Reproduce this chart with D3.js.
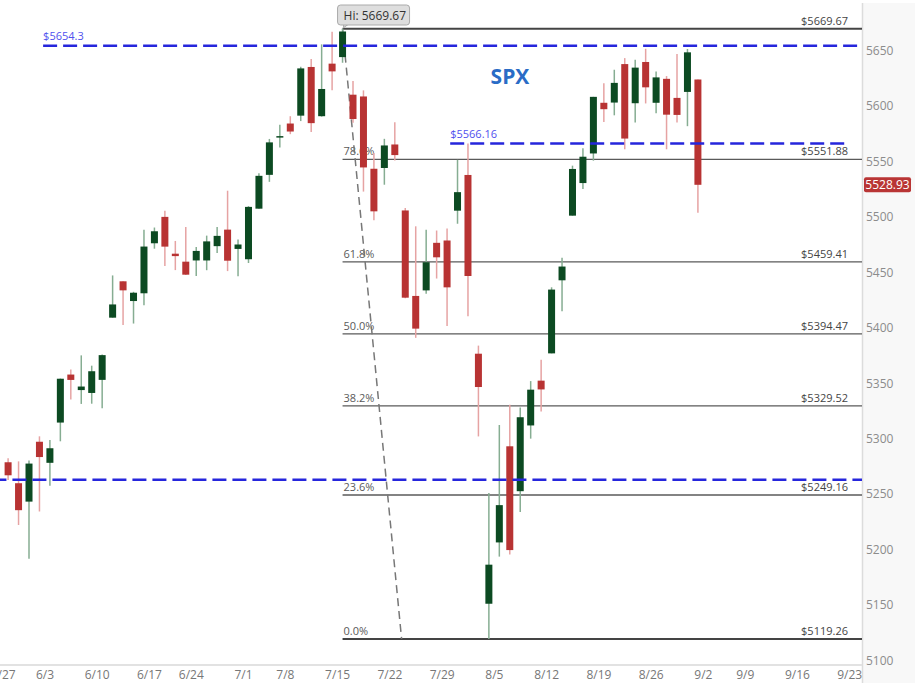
<!DOCTYPE html>
<html>
<head>
<meta charset="utf-8">
<script src="https://cdn.jsdelivr.net/npm/d3@7"></script>
<style>
  html, body { margin: 0; padding: 0; background: #fff; }
  svg { display: block; font-family: "Open Sans", "Noto Sans", sans-serif; }
</style>
</head>
<body>
<svg id="chart" width="915" height="683"></svg>
<script>
// ---- Data (SPX daily, 5/29 – 9/3) ----
const dates = ["5/29","5/30","5/31","6/3","6/4","6/5","6/6","6/7","6/10","6/11","6/12","6/13","6/14","6/17","6/18","6/20","6/21","6/24","6/25","6/26","6/27","6/28","7/1","7/2","7/3","7/5","7/8","7/9","7/10","7/11","7/12","7/15","7/16","7/17","7/18","7/19","7/22","7/23","7/24","7/25","7/26","7/29","7/30","7/31","8/1","8/2","8/5","8/6","8/7","8/8","8/9","8/12","8/13","8/14","8/15","8/16","8/19","8/20","8/21","8/22","8/23","8/26","8/27","8/28","8/29","8/30","9/3"];
const opens = [5278.7,5259.8,5243.2,5297.2,5278.2,5314.5,5357.8,5343.8,5341.2,5353.0,5409.1,5441.9,5424.1,5431.1,5476.2,5500.0,5466.8,5459.6,5460.7,5460.7,5473.6,5488.5,5471.1,5461.8,5507.4,5537.9,5572.5,5584.2,5591.3,5635.2,5590.8,5638.2,5644.1,5610.2,5608.6,5543.4,5544.1,5565.3,5505.8,5428.7,5433.7,5476.6,5478.7,5505.6,5537.8,5376.6,5151.1,5206.4,5293.1,5252.6,5311.9,5352.3,5376.9,5442.8,5501.1,5530.5,5557.2,5602.9,5603.1,5637.8,5602.5,5639.7,5602.9,5624.5,5607.3,5612.7,5623.9];
const highs = [5282.3,5279.5,5280.3,5302.1,5298.8,5354.2,5362.4,5375.1,5365.8,5375.9,5447.2,5441.9,5432.4,5488.5,5490.4,5505.5,5478.3,5490.8,5472.9,5483.1,5490.8,5523.6,5479.6,5509.7,5539.3,5570.3,5583.1,5590.8,5635.4,5642.5,5655.6,5666.9,5669.67,5622.5,5614.1,5557.5,5570.4,5585.3,5508.0,5491.5,5488.3,5487.7,5489.5,5551.5,5566.2,5383.9,5250.9,5312.3,5330.6,5328.0,5351.9,5371.2,5436.5,5463.2,5546.2,5562.0,5608.3,5620.5,5632.7,5643.2,5641.8,5651.6,5631.2,5627.0,5646.95,5651.4,5623.9];
const lows = [5262.7,5222.1,5191.7,5234.3,5257.6,5297.6,5335.4,5331.3,5331.5,5327.3,5409.1,5402.5,5403.8,5420.4,5471.3,5455.6,5452.0,5447.6,5446.6,5451.9,5467.5,5451.1,5446.5,5458.4,5507.4,5531.6,5562.5,5574.6,5586.4,5576.5,5590.4,5614.1,5639.0,5584.8,5522.8,5497.0,5529.0,5550.9,5426.6,5390.9,5430.7,5444.4,5401.7,5493.8,5410.4,5302.0,5119.26,5193.6,5195.5,5233.9,5300.0,5324.4,5376.9,5415.0,5501.1,5525.2,5550.7,5585.5,5591.6,5560.95,5585.2,5602.3,5593.5,5560.95,5585.2,5581.8,5503.7];
const closes = [5266.95,5235.48,5277.51,5283.40,5291.34,5354.03,5352.96,5346.99,5360.79,5375.32,5421.03,5433.74,5431.60,5473.23,5487.03,5473.17,5464.62,5447.87,5469.30,5477.90,5482.87,5460.48,5475.09,5509.01,5537.02,5567.19,5572.85,5576.98,5633.91,5584.54,5615.35,5631.22,5667.20,5588.27,5544.59,5505.00,5564.41,5555.74,5427.13,5399.22,5459.10,5463.54,5436.44,5522.30,5446.68,5346.56,5186.33,5240.03,5199.50,5319.31,5344.16,5344.39,5434.43,5455.21,5543.22,5554.25,5608.25,5597.12,5620.85,5570.64,5634.61,5616.84,5625.80,5592.18,5591.96,5648.40,5528.93];

// x tick labels (trading-day index positions)
const tickLabels = ["5/27","6/3","6/10","6/17","6/24","7/1","7/8","7/15","7/22","7/29","8/5","8/12","8/19","8/26","9/2","9/9","9/16","9/23"];
const tickIndex  = [-1,3,8,13,17,22,26,31,36,41,46,51,56,61,66,70,75,80];
const yTicks = [5100,5150,5200,5250,5300,5350,5400,5450,5500,5550,5600,5650];

// Fibonacci retracement (7/16 high -> 8/5 low)
const fibLevels = [1.0, 0.786, 0.618, 0.5, 0.382, 0.236, 0.0];
const fibLabels = ["100.0%","78.6%","61.8%","50.0%","38.2%","23.6%","0.0%"];
const fibHigh = 5669.67, fibLow = 5119.26;
const fibStartIdx = 32, fibEndIdx = 37.65;

// Horizontal blue levels
const blueLevels = [5654.3, 5566.16, 5263];
const blueLabels = ["$5654.3", "$5566.16", ""];
const blueStartIdx = [3.35, 42.3, -1.5];
const blueEndIdx = [81.7, 80.3, 81.7];

const lastPrice = 5528.93;

// ---- Layout ----
const W = 915, H = 683;
const plotRight = 862, plotBottom = 665, plotTop = 3;
const svg = d3.select("#chart");

const x = d3.scaleLinear().domain([-0.775, 81.7]).range([0, plotRight]);
const y = d3.scaleLinear().domain([5100, 5650]).range([660.4, 50.56]);

// right axis panel
svg.append("rect").attr("x", plotRight).attr("y", plotTop).attr("width", W - plotRight).attr("height", H - plotTop).attr("fill", "#f8f8f8");
svg.append("line").attr("x1", plotRight + 0.5).attr("x2", plotRight + 0.5).attr("y1", plotTop).attr("y2", H)
  .attr("stroke", "#dcdcdc").attr("stroke-width", 1.5);
svg.append("line").attr("x1", 0).attr("x2", plotRight).attr("y1", plotBottom).attr("y2", plotBottom)
  .attr("stroke", "#e2e2e2").attr("stroke-width", 2);

svg.append("clipPath").attr("id", "clip").append("rect")
  .attr("x", 0).attr("y", plotTop).attr("width", plotRight).attr("height", plotBottom - plotTop);
const g = svg.append("g").attr("clip-path", "url(#clip)");

// Fib lines
const fibVal = f => fibLow + (fibHigh - fibLow) * f;
fibLevels.forEach((f, i) => {
  const yy = y(fibVal(f));
  const heavy = (f === 1 || f === 0);
  g.append("line").attr("x1", x(fibStartIdx)).attr("x2", plotRight).attr("y1", yy).attr("y2", yy)
    .attr("stroke", heavy ? "#444" : "#5a5a5a").attr("stroke-width", heavy ? 2 : 1.3);
  g.append("text").attr("x", x(fibStartIdx) + 1).attr("y", yy - 4).attr("font-size", 11).attr("fill", "#5a5a5a")
    .text(fibLabels[i]);
  g.append("text").attr("x", 848).attr("y", yy - 4).attr("font-size", 11).attr("fill", "#444")
    .attr("text-anchor", "end").text("$" + fibVal(f).toFixed(2));
});

// Fib diagonal
g.append("line").attr("x1", x(fibStartIdx)).attr("y1", y(fibHigh)).attr("x2", x(fibEndIdx)).attr("y2", y(fibLow))
  .attr("stroke", "#777").attr("stroke-width", 1.5).attr("stroke-dasharray", "8,5");

// Candles
const cw = 7;
dates.forEach((d, i) => {
  const up = closes[i] >= opens[i];
  const cx = x(i);
  g.append("line").attr("x1", cx).attr("x2", cx).attr("y1", y(highs[i])).attr("y2", y(lows[i]))
    .attr("stroke", up ? "#86ad92" : "#e6a3a3").attr("stroke-width", 1.5);
  const top = y(Math.max(opens[i], closes[i])), bot = y(Math.min(opens[i], closes[i]));
  g.append("rect").attr("x", cx - cw / 2).attr("y", top).attr("width", cw).attr("height", Math.max(1.5, bot - top))
    .attr("fill", up ? "#0c4a22" : "#b83333");
});

// Blue dashed levels
blueLevels.forEach((v, i) => {
  g.append("line").attr("x1", x(blueStartIdx[i])).attr("x2", x(blueEndIdx[i])).attr("y1", y(v)).attr("y2", y(v))
    .attr("stroke", "#2626dc").attr("stroke-width", 2.5).attr("stroke-dasharray", "14,6");
  if (blueLabels[i]) {
    g.append("text").attr("x", x(blueStartIdx[i])).attr("y", y(v) - 6).attr("font-size", 11)
      .attr("fill", "#5050ee").text(blueLabels[i]);
  }
});

// SPX title
svg.append("text").attr("x", 510).attr("y", 84).attr("text-anchor", "middle").attr("font-size", 21)
  .attr("font-weight", "bold").attr("fill", "#2a6cc6").text("SPX");

// Hi label
const hx = x(fibStartIdx), hy = y(fibHigh);
const hi = svg.append("g");
hi.append("path").attr("d", `M${hx + 1},${hy - 1} L${hx + 1},${hy - 6} L${hx + 8},${hy - 6} Z`).attr("fill", "#ddd").attr("stroke", "#aaa");
hi.append("rect").attr("x", hx - 5).attr("y", 5).attr("width", 72).attr("height", 20).attr("rx", 3)
  .attr("fill", "#dedede").attr("stroke", "#aaa").attr("stroke-width", 1);
hi.append("text").attr("x", hx + 1).attr("y", 20).attr("font-size", 12).attr("fill", "#333").text("Hi: " + fibHigh.toFixed(2));

// Right axis
const ya = svg.append("g").attr("transform", `translate(${plotRight},0)`)
  .call(d3.axisRight(y).tickValues(yTicks).tickSize(0).tickPadding(4).tickFormat(d3.format("d")));
ya.select(".domain").remove();
ya.selectAll("text").attr("font-size", 12).attr("fill", "#8c8c8c").attr("font-family", "'Open Sans', sans-serif");

// Last price tag
const lp = y(lastPrice);
svg.append("rect").attr("x", 864).attr("y", lp - 7.5).attr("width", 47).attr("height", 15).attr("rx", 2).attr("fill", "#b93535");
svg.append("text").attr("x", 887.5).attr("y", lp + 4.5).attr("text-anchor", "middle").attr("font-size", 12)
  .attr("fill", "#fff").text(lastPrice.toFixed(2));

// Bottom axis
const xa = svg.append("g").attr("transform", `translate(0,${plotBottom})`)
  .call(d3.axisBottom(x).tickValues(tickIndex).tickSize(0).tickPadding(5).tickFormat((d, i) => tickLabels[i]));
xa.select(".domain").remove();
xa.selectAll("text").attr("font-size", 12).attr("fill", "#777").attr("dx", 5).attr("font-family", "'Open Sans', sans-serif");
</script>
</body>
</html>
